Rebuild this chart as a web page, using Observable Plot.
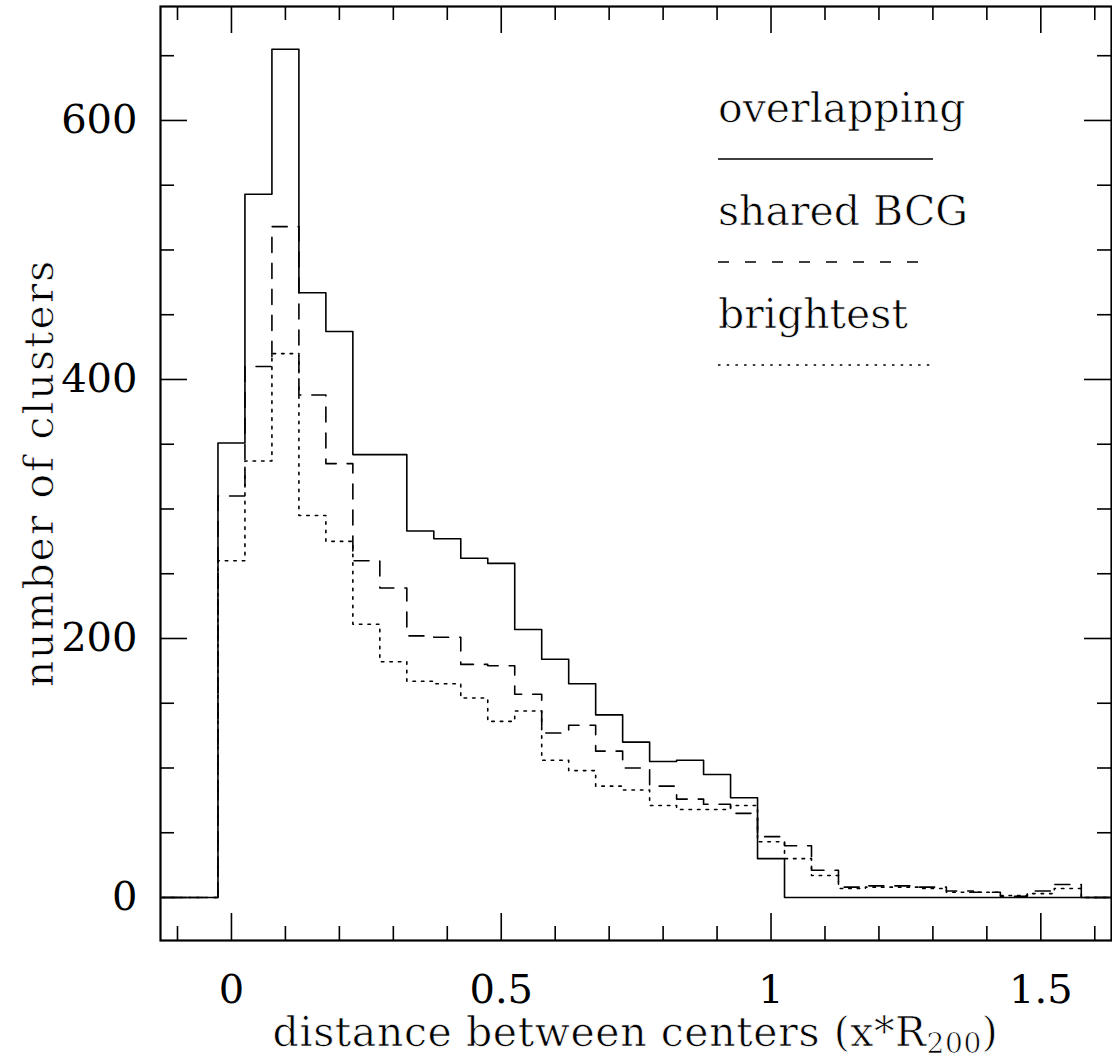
<!DOCTYPE html>
<html><head><meta charset="utf-8">
<script src="https://cdn.jsdelivr.net/npm/d3@7"></script>
<script src="https://cdn.jsdelivr.net/npm/@observablehq/plot@0.6"></script>
<style>body{margin:0;background:#fff}</style>
</head><body><div id="chart"></div>
<script>
// ---- data ----
const binWidth = 0.05;
const binCenters = [-0.15,-0.1,-0.05,0,0.05,0.1,0.15,0.2,0.25,0.3,0.35,0.4,0.45,0.5,0.55,0.6,0.65,0.7,0.75,0.8,0.85,0.9,0.95,1,1.05,1.1,1.15,1.2,1.25,1.3,1.35,1.4,1.45,1.5,1.55,1.6,1.65];
const overlapping = [0,0,0,351,543,655,467,437,342,342,283,277,262,258,207,184,165,141,120,105,106,95,77,30,0,0,0,0,0,0,0,0,0,0,0,0,0];
const sharedBCG   = [0,0,0,310,410,518,388,335,260,239,202,201,180,179,157,127,133,113,100,86,76,72,65,47,40,21,8,9,9,8,5,4,1,5,10,0,0];
const brightest   = [0,0,0,260,337,420,295,275,211,182,167,165,154,136,144,106,98,86,83,71,68,68,71,43,30,17,7,8,8,7,4,4,1.5,3,7,0,0];
const seriesNames = ["overlapping","shared BCG","brightest"];
const xMajorTicks = [0,0.5,1,1.5];
const xMinorTicks = [-0.1,0.1,0.2,0.3,0.4,0.6,0.7,0.8,0.9,1.1,1.2,1.3,1.4,1.6];
const yMajorTicks = [0,200,400,600];
const yMinorTicks = [50,100,150,250,300,350,450,500,550,650];
const xTickLabels = ["0","0.5","1","1.5"];
const yTickLabels = ["0","200","400","600"];
const xTitleMain = "distance between centers (x*R";
const xTitleSub = "200";
const xTitleEnd = ")";
const yTitle = "number of clusters";

function steps(values){
  const pts = binCenters.map((c,i)=>({x:c-binWidth/2, y:values[i]}));
  const n = binCenters.length-1;
  pts.push({x:binCenters[n]+binWidth/2, y:values[n]});
  return pts;
}

const W=1112,H=1061,mL=160,mR=1,mT=6,mB=121;
const innerW=W-mL-mR, innerH=H-mT-mB;
const font = "DejaVu Serif";
const fs = 40;
const thin = {stroke:"white", strokeWidth:0.7};

const chart = Plot.plot({
  width:W, height:H, marginLeft:mL, marginRight:mR, marginTop:mT, marginBottom:mB,
  x:{domain:[-0.1315,1.631], axis:null},
  y:{domain:[-33.2,688], axis:null},
  style:{fontFamily:font, background:"white", color:"black", overflow:"visible"},
  marks:[
    // ticks (inward, on all four sides)
    Plot.ruleX(xMajorTicks,{x:d=>d, insetTop:innerH-27, stroke:"black", strokeWidth:1.6}),
    Plot.ruleX(xMajorTicks,{x:d=>d, insetBottom:innerH-27, stroke:"black", strokeWidth:1.6}),
    Plot.ruleX(xMinorTicks,{x:d=>d, insetTop:innerH-14, stroke:"black", strokeWidth:1.6}),
    Plot.ruleX(xMinorTicks,{x:d=>d, insetBottom:innerH-14, stroke:"black", strokeWidth:1.6}),
    Plot.ruleY(yMajorTicks,{y:d=>d, insetRight:innerW-27, stroke:"black", strokeWidth:1.6}),
    Plot.ruleY(yMajorTicks,{y:d=>d, insetLeft:innerW-27, stroke:"black", strokeWidth:1.6}),
    Plot.ruleY(yMinorTicks,{y:d=>d, insetRight:innerW-14, stroke:"black", strokeWidth:1.6}),
    Plot.ruleY(yMinorTicks,{y:d=>d, insetLeft:innerW-14, stroke:"black", strokeWidth:1.6}),
    // histograms
    Plot.line(steps(brightest),{x:"x", y:"y", curve:"step-after", stroke:"black", strokeWidth:1.6, strokeDasharray:"2.5,6", clip:true}),
    Plot.line(steps(sharedBCG),{x:"x", y:"y", curve:"step-after", stroke:"black", strokeWidth:1.6, strokeDasharray:"15,11", clip:true}),
    Plot.line(steps(overlapping),{x:"x", y:"y", curve:"step-after", stroke:"black", strokeWidth:1.6, clip:true}),
    Plot.frame({stroke:"black", strokeWidth:2.2}),
    // tick labels
    Plot.text(xMajorTicks,{x:d=>d, frameAnchor:"bottom", dy:62, text:(d,i)=>xTickLabels[i], fontSize:fs, fill:"black", ...thin}),
    Plot.text(yMajorTicks,{y:d=>d, frameAnchor:"left", dx:-23, textAnchor:"end", text:(d,i)=>yTickLabels[i], fontSize:fs, fill:"black", ...thin})
  ]
});
document.getElementById("chart").appendChild(chart);

const svg = d3.select(chart);
// axis titles
const xt = svg.append("text").attr("x",(mL+W-mR)/2).attr("y",1046)
  .attr("text-anchor","middle").attr("font-family",font).attr("font-size",41)
  .attr("fill","black").attr("stroke","white").attr("stroke-width",0.7).attr("letter-spacing",0.6);
xt.append("tspan").text(xTitleMain);
xt.append("tspan").attr("font-size",28).attr("dy",7).text(xTitleSub);
xt.append("tspan").attr("dy",-7).text(xTitleEnd);

svg.append("text").attr("transform",`translate(53,${(mT+H-mB)/2}) rotate(-90)`)
  .attr("text-anchor","middle").attr("font-family",font).attr("font-size",41)
  .attr("fill","black").attr("stroke","white").attr("stroke-width",0.7).attr("letter-spacing",2)
  .text(yTitle);

// legend (top-right, inside the frame)
const lg = svg.append("g").attr("font-family",font).attr("font-size",41).attr("fill","black").attr("text-anchor","start");
const legendDash = [null,"11,16","2.5,6.2"];
const legendLen = [215,214,212];
seriesNames.forEach((name,i)=>{
  const base = 122 + i*103;
  lg.append("text").attr("x",718).attr("y",base).attr("stroke","white").attr("stroke-width",0.7).text(name);
  const line = lg.append("line").attr("x1",718).attr("x2",718+legendLen[i])
    .attr("y1",base+37).attr("y2",base+37).attr("stroke","black").attr("stroke-width",1.6);
  if (legendDash[i]) line.attr("stroke-dasharray",legendDash[i]);
});
</script>
</body></html>
